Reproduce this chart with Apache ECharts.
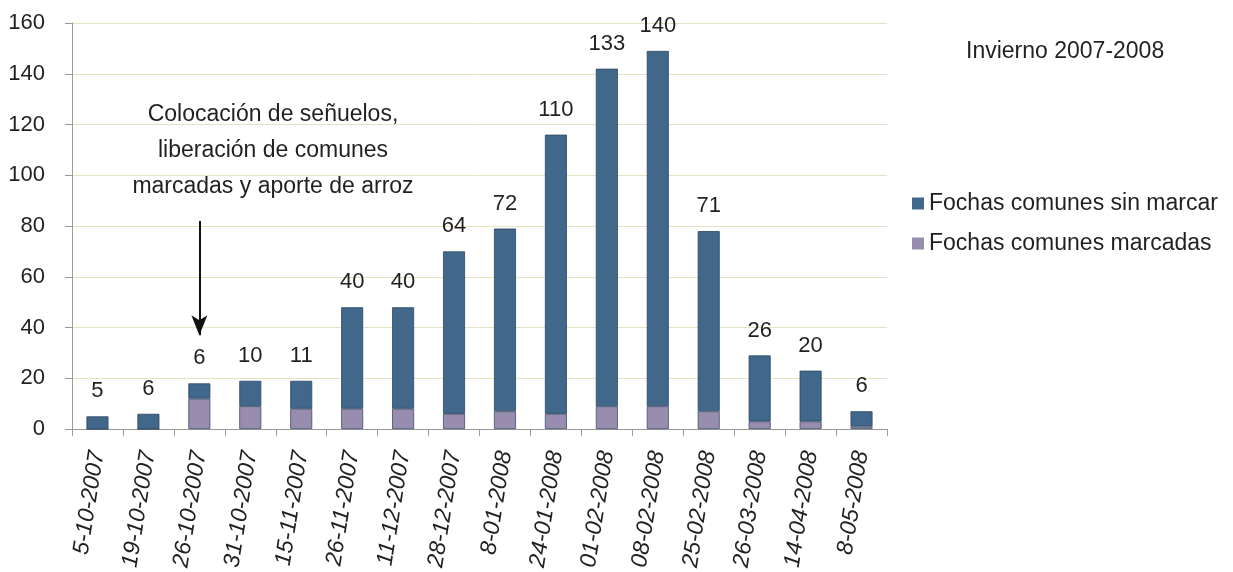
<!DOCTYPE html>
<html>
<head>
<meta charset="utf-8">
<script src="https://cdn.jsdelivr.net/npm/echarts@6/dist/echarts.min.js"></script>
<style>html,body{margin:0;padding:0;background:#fff}#c{width:1233px;height:572px}</style>
</head>
<body>
<div id="c"></div>
<script>
const categories = ['5-10-2007','19-10-2007','26-10-2007','31-10-2007','15-11-2007','26-11-2007','11-12-2007','28-12-2007','8-01-2008','24-01-2008','01-02-2008','08-02-2008','25-02-2008','26-03-2008','14-04-2008','8-05-2008'];
const sinMarcar = [5, 6, 6, 10, 11, 40, 40, 64, 72, 110, 133, 140, 71, 26, 20, 6];
const marcadas = [0, 0, 12, 9, 8, 8, 8, 6, 7, 6, 9, 9, 7, 3, 3, 1];
const yTicks = [0, 20, 40, 60, 80, 100, 120, 140, 160];
const seriesNames = ['Fochas comunes sin marcar', 'Fochas comunes marcadas'];
const titleText = 'Invierno 2007-2008';
const noteLines = ['Colocación de señuelos,', 'liberación de comunes', 'marcadas y aporte de arroz'];
const arrowCategory = '26-10-2007';
const arrowFrom = 82;
const arrowTo = 37;

const FONT = '"Liberation Sans", Arial, Helvetica, sans-serif';
const chart = echarts.init(document.getElementById('c'));
chart.setOption({
  animation: false,
  textStyle: { fontFamily: FONT },
  title: {
    text: titleText, left: 961, top: 35,
    textStyle: { fontFamily: FONT, fontSize: 23, fontWeight: 'normal', color: '#231f20' }
  },
  legend: {
    orient: 'vertical', left: 907, top: 187,
    data: [seriesNames[0], seriesNames[1]],
    itemWidth: 12, itemHeight: 12, itemGap: 17, icon: 'rect',
    itemStyle: { borderWidth: 0 },
    textStyle: { fontFamily: FONT, fontSize: 23, color: '#231f20' }
  },
  grid: { left: 72, right: 346, top: 23, bottom: 142, containLabel: false },
  xAxis: {
    type: 'category', data: categories,
    axisLine: { lineStyle: { color: '#9a9a9a', width: 1 } },
    axisTick: { show: true, alignWithLabel: false, length: 7, lineStyle: { color: '#9a9a9a' } },
    axisLabel: { rotate: 81, fontSize: 23, color: '#231f20', fontStyle: 'italic', margin: 22, interval: 0, fontFamily: FONT }
  },
  yAxis: {
    type: 'value', min: yTicks[0], max: yTicks[yTicks.length - 1], interval: yTicks[1] - yTicks[0],
    axisLine: { show: true, lineStyle: { color: '#9a9a9a' } },
    axisTick: { show: true, length: 7, lineStyle: { color: '#9a9a9a' } },
    axisLabel: { fontSize: 22, color: '#231f20', margin: 27, fontFamily: FONT },
    splitLine: { lineStyle: { color: '#e6e3c3', width: 1 } }
  },
  graphic: [{
    type: 'text', x: 273, y: 97,
    style: {
      text: noteLines.join('\n'), font: '23px ' + FONT, fill: '#231f20',
      align: 'center', verticalAlign: 'top', lineHeight: 36
    }
  }],
  series: [
    {
      name: seriesNames[1], type: 'bar', stack: 'total', data: marcadas,
      barWidth: 22,
      itemStyle: { color: '#988daf', borderColor: '#3a4f6a', borderWidth: 0.8 }
    },
    {
      name: seriesNames[0], type: 'bar', stack: 'total', data: sinMarcar,
      barWidth: 22,
      itemStyle: { color: '#41678a', borderColor: '#2c4763', borderWidth: 0.8 },
      label: { show: true, position: 'top', distance: 14, fontSize: 22, color: '#231f20', fontFamily: FONT },
      markLine: {
        silent: true, symbol: ['none', 'arrow'], symbolSize: [12, 20],
        lineStyle: { color: '#111', width: 2, type: 'solid' },
        label: { show: false },
        data: [[{ coord: [arrowCategory, arrowFrom] }, { coord: [arrowCategory, arrowTo] }]]
      }
    }
  ]
});
</script>
</body>
</html>
